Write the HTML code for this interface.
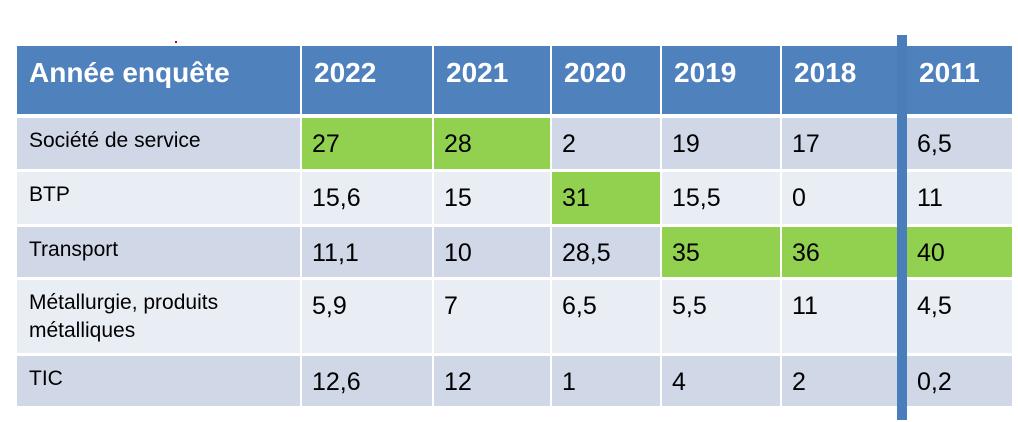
<!DOCTYPE html><html><head><meta charset="utf-8"><style>
body{margin:0;width:1018px;height:422px;background:#fff;position:relative;overflow:hidden;font-family:"Liberation Sans",Calibri,sans-serif}
.c{position:absolute;box-sizing:border-box;padding-left:10px;color:#000}
.h{background:#4F81BD;color:#fff;font-weight:bold;font-size:28px;padding-top:11px;padding-left:12px}
.d{background:#D0D8E8}.l{background:#E9EDF4}.g{background:#92D050}
.n{font-size:25px;padding-top:12px}
.t{font-size:21px;padding-top:9px;line-height:28px;padding-left:12px}
</style></head><body>
<div id="t"></div>
<div style="position:absolute;left:175px;top:41px;width:2px;height:2px;background:#c00"></div>
<script>
var xs=[17,302,434,552,662,782,907,1014];
var rows=[[46,114],[118,169],[172,224],[227,277],[280,353],[356,406]];
var data=[["Année enquête","2022","2021","2020","2019","2018","2011"],
["Société de service","27","28","2","19","17","6,5"],
["BTP","15,6","15","31","15,5","0","11"],
["Transport","11,1","10","28,5","35","36","40"],
["Métallurgie, produits<br>métalliques","5,9","7","6,5","5,5","11","4,5"],
["TIC","12,6","12","1","4","2","0,2"]];
var green={"1,1":1,"1,2":1,"2,3":1,"3,4":1,"3,5":1,"3,6":1};
var h="";
for(var r=0;r<6;r++)for(var c=0;c<7;c++){
var x0=xs[c],x1=xs[c+1]-2;var y0=rows[r][0],y1=rows[r][1];
var cls=r==0?"h":(green[r+","+c]?"g":(r%2?"d":"l"));
cls+=r==0?"":(c==0?" t":" n");
h+='<div class="c '+cls+'" style="left:'+x0+'px;top:'+y0+'px;width:'+(x1-x0)+'px;height:'+(y1-y0)+'px">'+data[r][c]+'</div>';}
h+='<div style="position:absolute;left:897px;top:35px;width:10px;height:385px;background:#4A7EBB"></div>';
document.getElementById("t").innerHTML=h;
</script></body></html>
